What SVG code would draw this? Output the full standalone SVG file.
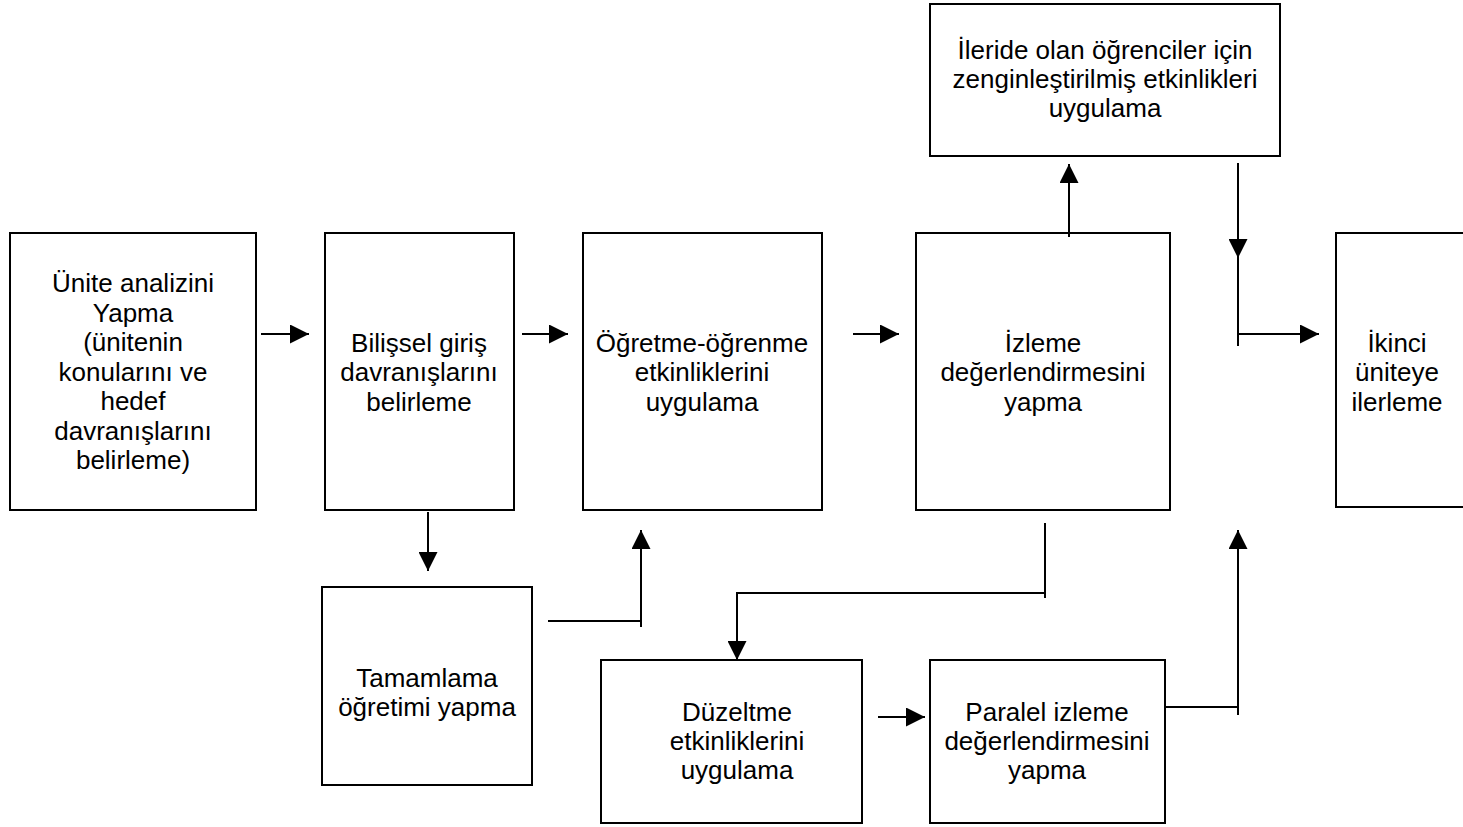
<svg xmlns="http://www.w3.org/2000/svg" width="1463" height="827" viewBox="0 0 1463 827">
<style>
.box{fill:#fff;stroke:#000;stroke-width:2}
text{font-family:"Liberation Sans",Arial,sans-serif;font-size:26px;fill:#000;text-anchor:middle}
.ln{fill:none;stroke:#000;stroke-width:2}
</style>
<defs>
<marker id="ah" viewBox="0 0 10 10" refX="10" refY="5" markerWidth="19" markerHeight="19" markerUnits="userSpaceOnUse" orient="auto">
<path d="M0,0 L10,5 L0,10 Z" fill="#000"/>
</marker>
</defs>
<rect width="1463" height="827" fill="#fff"/>
<g id="n1"><rect class="box" x="10" y="233" width="246" height="277"/>
<text x="133" y="292">Ünite analizini</text><text x="133" y="321.5">Yapma</text><text x="133" y="351">(ünitenin</text><text x="133" y="380.5">konularını ve</text><text x="133" y="410">hedef</text><text x="133" y="439.5">davranışlarını</text><text x="133" y="469">belirleme)</text></g>
<g id="n2"><rect class="box" x="325" y="233" width="189" height="277"/>
<text x="419" y="351.5">Bilişsel giriş</text><text x="419" y="381">davranışlarını</text><text x="419" y="410.5">belirleme</text></g>
<g id="n3"><rect class="box" x="583" y="233" width="239" height="277"/>
<text x="702" y="351.5">Öğretme-öğrenme</text><text x="702" y="381">etkinliklerini</text><text x="702" y="410.5">uygulama</text></g>
<g id="n4"><rect class="box" x="916" y="233" width="254" height="277"/>
<text x="1043" y="351.5">İzleme</text><text x="1043" y="381">değerlendirmesini</text><text x="1043" y="410.5">yapma</text></g>
<g id="n5"><rect class="box" x="930" y="4" width="350" height="152"/>
<text x="1105" y="59">İleride olan öğrenciler için</text><text x="1105" y="88">zenginleştirilmiş etkinlikleri</text><text x="1105" y="117">uygulama</text></g>
<g id="n6"><rect class="box" x="1336" y="233" width="140" height="274"/>
<text x="1397" y="351.5">İkinci</text><text x="1397" y="381">üniteye</text><text x="1397" y="410.5">ilerleme</text></g>
<g id="n7"><rect class="box" x="322" y="587" width="210" height="198"/>
<text x="427" y="687">Tamamlama</text><text x="427" y="716">öğretimi yapma</text></g>
<g id="n8"><rect class="box" x="601" y="660" width="261" height="163"/>
<text x="737" y="721">Düzeltme</text><text x="737" y="750">etkinliklerini</text><text x="737" y="779">uygulama</text></g>
<g id="n9"><rect class="box" x="930" y="660" width="235" height="163"/>
<text x="1047" y="721">Paralel izleme</text><text x="1047" y="750">değerlendirmesini</text><text x="1047" y="779">yapma</text></g>
<g id="connectors">
<line class="ln" x1="261" y1="334" x2="309" y2="334" marker-end="url(#ah)"/>
<line class="ln" x1="522" y1="334" x2="568" y2="334" marker-end="url(#ah)"/>
<line class="ln" x1="853" y1="334" x2="899" y2="334" marker-end="url(#ah)"/>
<line class="ln" x1="1238" y1="334" x2="1319" y2="334" marker-end="url(#ah)"/>
<line class="ln" x1="428" y1="512" x2="428" y2="571" marker-end="url(#ah)"/>
<polyline class="ln" points="548,621 641,621"/>
<line class="ln" x1="641" y1="627" x2="641" y2="530" marker-end="url(#ah)"/>
<line class="ln" x1="1069" y1="237" x2="1069" y2="164" marker-end="url(#ah)"/>
<polyline class="ln" points="1045,523 1045,598"/>
<polyline class="ln" points="1045,593 737,593 737,660" marker-end="url(#ah)"/>
<line class="ln" x1="1238" y1="163" x2="1238" y2="258" marker-end="url(#ah)"/>
<line class="ln" x1="1238" y1="256" x2="1238" y2="346"/>
<line class="ln" x1="878" y1="717" x2="925" y2="717" marker-end="url(#ah)"/>
<polyline class="ln" points="1165,707 1238,707"/>
<line class="ln" x1="1238" y1="715" x2="1238" y2="530" marker-end="url(#ah)"/>
</g>
</svg>
